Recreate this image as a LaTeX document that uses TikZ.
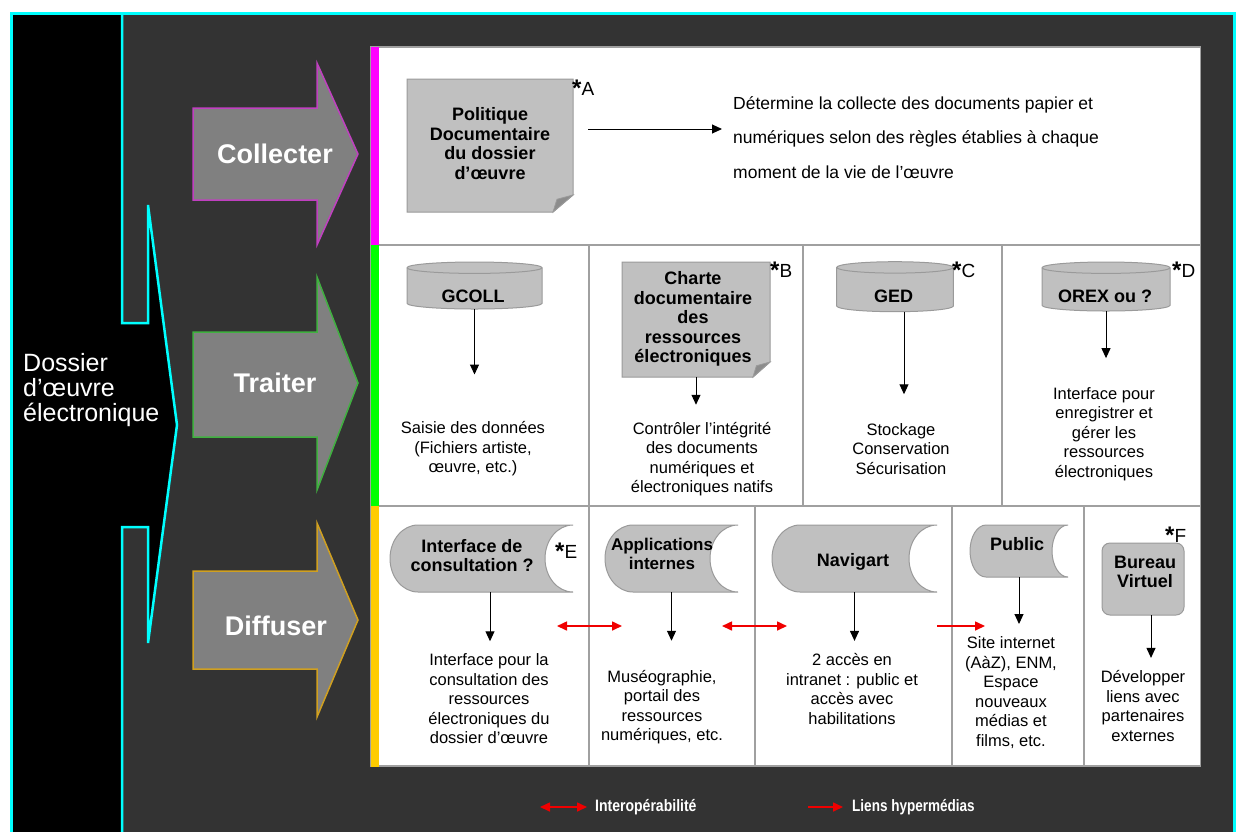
\documentclass[tikz,border=0pt]{standalone}
\usepackage{fontspec}
\setmainfont{Liberation Sans}
\usetikzlibrary{arrows.meta}
\definecolor{cyanl}{HTML}{00FFFF}
\definecolor{darkbg}{HTML}{333333}
\definecolor{arrg}{HTML}{808080}
\definecolor{shp}{HTML}{C0C0C0}
\definecolor{shpb}{HTML}{9A9A9A}
\definecolor{foldc}{HTML}{8C8C8C}
\definecolor{gridc}{HTML}{A0A0A0}
\definecolor{cmag}{HTML}{FF00FF}
\definecolor{cgreen}{HTML}{00FF00}
\definecolor{cyel}{HTML}{FFCC00}
\definecolor{omag}{HTML}{C040C0}
\definecolor{ogreen}{HTML}{40B040}
\definecolor{oyel}{HTML}{D0A020}
\definecolor{redl}{HTML}{F00000}
\tikzset{
  anch/.style={draw=none, fill=none, inner sep=0pt, outer sep=0pt},
  lbl/.style={font=\fontsize{18}{19.5}\selectfont\bfseries, align=center, inner sep=0pt},
  txt/.style={font=\fontsize{16.5}{19.5}\selectfont, align=center, inner sep=0pt},
  astx/.style={font=\fontsize{19}{20}\selectfont, inner sep=0pt, anchor=base west},
  arr/.style={-{Triangle[length=10pt,width=9pt]}, line width=1pt, black},
  redarr/.style={{Triangle[length=10pt,width=9pt]}-{Triangle[length=10pt,width=9pt]}, line width=1.6pt, redl},
  redone/.style={-{Triangle[length=10pt,width=9pt]}, line width=1.6pt, redl},
  bigarr/.style={fill=arrg, line width=1.5pt, line join=miter},
  biglbl/.style={font=\fontsize{27}{30}\selectfont\bfseries, text=white, inner sep=0pt},
  shpfill/.style={fill=shp, draw=shpb, line width=1pt},
  gridln/.style={draw=gridc, line width=1.3pt},
  legtxt/.style={font=\fontsize{16.5}{18}\selectfont\bfseries, text=white, inner sep=0pt, anchor=west},
}
\newcommand{\myast}{\raisebox{-1.5pt}{\fontsize{24}{24}\selectfont\bfseries *}}
\newcommand{\mydoc}[3]{%
  \filldraw[shpfill] (#1.north west) -- (#1.north east) -- ([yshift=#3pt]#1.south east) -- ([xshift=-#2pt]#1.south east) -- (#1.south west) -- cycle;
  \filldraw[fill=foldc, draw=shpb, line width=0.8pt] ([yshift=#3pt]#1.south east) -- ([xshift=-0.8*#2pt,yshift=0.75*#3pt]#1.south east) -- ([xshift=-#2pt]#1.south east) -- cycle;}
\newcommand{\mycyl}[2]{%
  \filldraw[shpfill] ([yshift=-5.7pt]#1.north west) -- ([yshift=5.7pt]#1.south west) arc[start angle=180, end angle=360, x radius=#2pt, y radius=5.7pt] -- ([yshift=-5.7pt]#1.north east) arc[start angle=0, end angle=180, x radius=#2pt, y radius=5.7pt] -- cycle;
  \draw[shpb, line width=1pt] ([yshift=-5.7pt]#1.north west) arc[start angle=180, end angle=360, x radius=#2pt, y radius=5.7pt];}
\newcommand{\mystore}[3]{%
  \filldraw[shpfill] ([xshift=#2pt]#1.north west) -- (#1.north east) arc[start angle=90, end angle=270, x radius=#2pt, y radius=#3pt] -- ([xshift=#2pt]#1.south west) arc[start angle=270, end angle=90, x radius=#2pt, y radius=#3pt] -- cycle;}
\begin{document}
\begin{tikzpicture}[x=1pt,y=-1pt]
\useasboundingbox (0,0) rectangle (1240,831);
\fill[white] (0,0) rectangle (1240,831);
% frame
\fill[darkbg] (11.5,13.5) rectangle (1234,840);
\fill[black] (11.5,13.5) -- (122,13.5) -- (122,323) -- (148,323) -- (148,205) -- (177,425) -- (148,643) -- (148,527) -- (122,527) -- (122,840) -- (11.5,840) -- cycle;
\draw[cyanl, line width=3pt] (11.5,840) -- (11.5,13.5) -- (1234,13.5) -- (1234,840);
\draw[cyanl, line width=2.5pt] (122,13.5) -- (122,323) -- (148,323) -- (148,205) -- (177,425) -- (148,643) -- (148,527) -- (122,527) -- (122,840);
\node[anchor=west, align=left, text=white, font=\fontsize{25}{25}\selectfont, inner sep=0pt] (dossier) at (23,390) {Dossier\\d’œuvre\\électronique};
% big arrows
\filldraw[bigarr, draw=omag] (193,108) -- (317,108) -- (317,63) -- (358,154) -- (317,245) -- (317,200) -- (193,200) -- cycle;
\filldraw[bigarr, draw=ogreen] (193,332) -- (317,332) -- (317,277) -- (358,383) -- (317,490) -- (317,437) -- (193,437) -- cycle;
\filldraw[bigarr, draw=oyel] (193,571) -- (317,571) -- (317,523) -- (358,620) -- (317,717) -- (317,669) -- (193,669) -- cycle;
\node[biglbl] (collecter) at (275,154) {Collecter};
\node[biglbl] (traiter) at (275,383) {Traiter};
\node[biglbl] (diffuser) at (276,626) {Diffuser};
% table
\filldraw[fill=white, draw=gridc, line width=1.5pt] (371,47) rectangle (1200.5,766);
\draw[gridln] (378,245) -- (1200.5,245);
\draw[gridln] (378,506) -- (1200.5,506);
\draw[gridln] (589,245) -- (589,506);
\draw[gridln] (803,245) -- (803,506);
\draw[gridln] (1002,245) -- (1002,506);
\draw[gridln] (589,506) -- (589,766);
\draw[gridln] (755,506) -- (755,766);
\draw[gridln] (952,506) -- (952,766);
\draw[gridln] (1084,506) -- (1084,766);
\fill[cmag] (371,46.5) rectangle (378.5,245);
\fill[cgreen] (371,245) rectangle (378.5,506);
\fill[cyel] (371,506) rectangle (378.5,766.5);
% Collecter row
\node[anch, minimum width=166pt, minimum height=133pt] (pol) at (490,145.5) {};
\mydoc{pol}{20}{17}
\node[lbl] (polL) at (490,143.5) {Politique\\Documentaire\\du dossier\\d’œuvre};
\node[astx] (astA) at (572,95) {\myast A};
\node[anchor=west, align=left, inner sep=0pt, font=\fontsize{17.5}{34.5}\selectfont] (colT) at (733,137.5) {Détermine la collecte des documents papier et\\numériques selon des règles établies à chaque\\moment de la vie de l’œuvre};
\coordinate (polS) at ([yshift=16.5pt]pol.east);
\draw[arr, shorten <=15pt, shorten >=11pt] (polS) -- (polS -| colT.west);
% Traiter row
\node[anch, minimum width=135pt, minimum height=47pt] (gcoll) at (474.5,285.5) {};
\mycyl{gcoll}{67.5}
\node[lbl] (gcollL) at (473,296) {GCOLL};
\node[txt] (gcollR) at (473,449) {Saisie des données\\(Fichiers artiste,\\œuvre, etc.)};
\draw[arr, shorten >=47pt] (gcoll.south) -- (gcoll.south |- gcollR.north);

\node[anch, minimum width=148pt, minimum height=115pt] (charte) at (696,319.5) {};
\mydoc{charte}{17}{15}
\node[lbl] (charteL) at (693,319) {Charte\\documentaire\\des\\ressources\\électroniques};
\node[astx] (astB) at (770,277) {\myast B};
\node[txt] (charteR) at (702,459) {Contrôler l’intégrité\\des documents\\numériques et\\électroniques natifs};
\draw[arr, shorten >=17pt] (charte.south) -- (charte.south |- charteR.north);

\node[anch, minimum width=116.6pt, minimum height=50pt] (ged) at (895,286.7) {};
\mycyl{ged}{58.3}
\node[lbl] (gedL) at (893.5,296.5) {GED};
\node[astx] (astC) at (952,277) {\myast C};
\node[txt] (gedR) at (901,449) {Stockage\\Conservation\\Sécurisation};
\coordinate (gedS) at ([xshift=9pt]ged.south);
\draw[arr, shorten >=29pt] (gedS) -- (gedS |- gedR.north);

\node[anch, minimum width=128pt, minimum height=49pt] (orex) at (1106,286.5) {};
\mycyl{orex}{64}
\node[lbl] (orexL) at (1105,296.5) {OREX ou ?};
\node[astx] (astD) at (1172,277) {\myast D};
\node[txt] (orexR) at (1104,434) {Interface pour\\enregistrer et\\gérer les\\ressources\\électroniques};
\draw[arr, shorten >=29pt] (orex.south) -- (orex.south |- orexR.north);
% Diffuser row
\node[anch, minimum width=183pt, minimum height=67pt] (iface) at (481.5,558.5) {};
\mystore{iface}{28}{33.5}
\node[lbl] (ifaceL) at (472,555.5) {Interface de\\consultation ?};
\node[astx] (astE) at (555,558) {\myast E};
\node[txt] (ifaceR) at (489,699) {Interface pour la\\consultation des\\ressources\\électroniques du\\dossier d’œuvre};
\coordinate (ifaceS) at ([xshift=8.5pt]iface.south);
\draw[arr, shorten >=12.5pt] (ifaceS) -- (ifaceS |- ifaceR.north);

\node[anch, minimum width=133pt, minimum height=67pt] (apps) at (671.5,558.5) {};
\mystore{apps}{28}{33.5}
\node[lbl, font=\fontsize{17}{19}\selectfont\bfseries] (appsL) at (662,553.5) {Applications\\internes};
\node[txt] (appsR) at (662,707) {Muséographie,\\portail des\\ressources\\numériques, etc.};
\draw[arr, shorten >=29pt] (apps.south) -- (apps.south |- appsR.north);

\node[anch, minimum width=165pt, minimum height=67pt] (navi) at (854.5,558.5) {};
\mystore{navi}{28}{33.5}
\node[lbl] (naviL) at (853,562) {Navigart};
\node[txt] (naviR) at (852,689) {2 accès en\\intranet : public et\\accès avec\\habilitations};
\draw[arr, shorten >=12.5pt] (navi.south) -- (navi.south |- naviR.north);

\node[anch, minimum width=98pt, minimum height=52pt] (public) at (1019,551) {};
\mystore{public}{16}{26}
\node[lbl] (publicL) at (1017,544) {Public};
\node[txt] (publicR) at (1011,692.5) {Site internet\\(AàZ), ENM,\\Espace\\nouveaux\\médias et\\films, etc.};
\draw[arr, shorten >=12.5pt] (public.south) -- (public.south |- publicR.north);

\node[anch, minimum width=82pt, minimum height=72pt] (bur) at (1143,579) {};
\filldraw[shpfill, rounded corners=8pt] (bur.north west) rectangle (bur.south east);
\node[lbl] (burL) at (1145,572) {Bureau\\Virtuel};
\node[astx] (astF) at (1165,542) {\myast F};
\node[txt] (burR) at (1143,706) {Développer\\liens avec\\partenaires\\externes};
\coordinate (burS) at ([xshift=8pt]bur.south);
\draw[arr, shorten >=12.5pt] (burS) -- (burS |- burR.north);
% red links
\coordinate (r1a) at (557,626);
\coordinate (r1b) at (622,626);
\coordinate (r2a) at (722,626);
\coordinate (r2b) at (787,626);
\coordinate (r3a) at (937,626);
\coordinate (r3b) at (985,626);
\draw[redarr] (r1a) -- (r1b);
\draw[redarr] (r2a) -- (r2b);
\draw[redone] (r3a) -- (r3b);
% legend
\coordinate (l1a) at (540,807);
\coordinate (l1b) at (587,807);
\coordinate (l2a) at (808,807);
\coordinate (l2b) at (843,807);
\draw[redarr] (l1a) -- (l1b);
\draw[redone] (l2a) -- (l2b);
\node[legtxt] (legI) at (595,807) {\scalebox{0.85}[1]{Interopérabilité}};
\node[legtxt] (legL) at (852,807) {\scalebox{0.82}[1]{Liens hypermédias}};
\end{tikzpicture}
\end{document}
